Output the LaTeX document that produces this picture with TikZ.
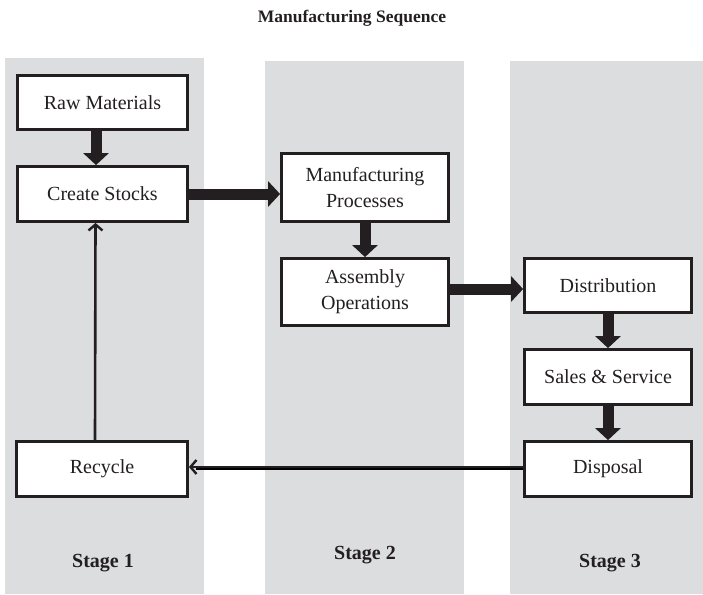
\documentclass[tikz,border=0pt]{standalone}
\usepackage{fontspec}
\setmainfont{Liberation Serif}
\usetikzlibrary{arrows.meta}
\definecolor{lane}{RGB}{220,221,223}
\definecolor{ink}{RGB}{35,31,32}
\definecolor{shade}{RGB}{140,140,142}
\begin{document}
\begin{tikzpicture}[x=1pt,y=-1pt,
  box/.style={draw=ink, line width=2.8pt, fill=white, inner sep=0pt,
    align=center, text=ink, font=\fontsize{20}{26}\selectfont},
  wide/.style={minimum width=170pt},
  narrow/.style={minimum width=167pt},
  stagelabel/.style={text=ink, font=\fontsize{20}{24}\selectfont\bfseries},
  flow/.style={draw=ink, line width=11pt, -{Triangle[width=25pt,length=12pt]}},
  backflow/.style={draw=ink, line width=2.6pt,
    -{Straight Barb[length=6pt,width=14pt,line width=2.4pt]}}
]
\useasboundingbox (0,0) rectangle (703,594);

% stage lanes
\fill[lane] (5,58) rectangle (204,594);
\fill[lane] (265,61) rectangle (464,594);
\fill[lane] (510,61) rectangle (703,594);

% title
\node[stagelabel, font=\fontsize{17.5}{21}\selectfont\bfseries] (title) at (352,18) {Manufacturing Sequence};

% stage 1
\node[box, wide, minimum height=54pt] (raw) at (102.5,102.5) {Raw Materials};
\node[box, wide, minimum height=55pt] (create) at (102.5,194) {Create Stocks};
\node[box, minimum width=171pt, minimum height=55pt] (rec) at (102,469) {Recycle};

% stage 2
\node[box, narrow, minimum height=68pt] (mp) at (365,187.5) {Manufacturing\\Processes};
\node[box, narrow, minimum height=67pt] (ao) at (365,292) {Assembly\\Operations};

% stage 3
\node[box, narrow, minimum height=54pt] (dist) at (608,285.5) {Distribution};
\node[box, narrow, minimum height=55pt] (sales) at (608,377) {Sales \& Service};
\node[box, narrow, minimum height=55pt] (disp) at (608,469) {Disposal};

% stage labels
\node[stagelabel] (s1) at (103,563) {Stage 1};
\node[stagelabel] (s2) at (365,555) {Stage 2};
\node[stagelabel] (s3) at (610,563) {Stage 3};

% main flow
\draw[flow] ([xshift=-6.5pt]raw.south) -- ([xshift=-6.5pt]create.north);
\draw[flow] (create.east) -- (create.east -| mp.west);
\draw[flow] (mp.south) -- (ao.north);
\draw[flow] ([yshift=3pt]ao.east) -- ([yshift=3pt]ao.east -| dist.west);
\draw[flow] (dist.south) -- (sales.north);
\draw[flow] (sales.south) -- (disp.north);

% return loop
\draw[shade, line width=2.2pt] ([yshift=0.3pt]disp.west) -- ([yshift=0.3pt,xshift=7pt]rec.east);
\draw[backflow] ([yshift=2pt]disp.west) -- ([yshift=2pt]rec.east);
\draw[backflow] ([xshift=-7pt]rec.north) -- ([xshift=-7pt]create.south);
\end{tikzpicture}
\end{document}
